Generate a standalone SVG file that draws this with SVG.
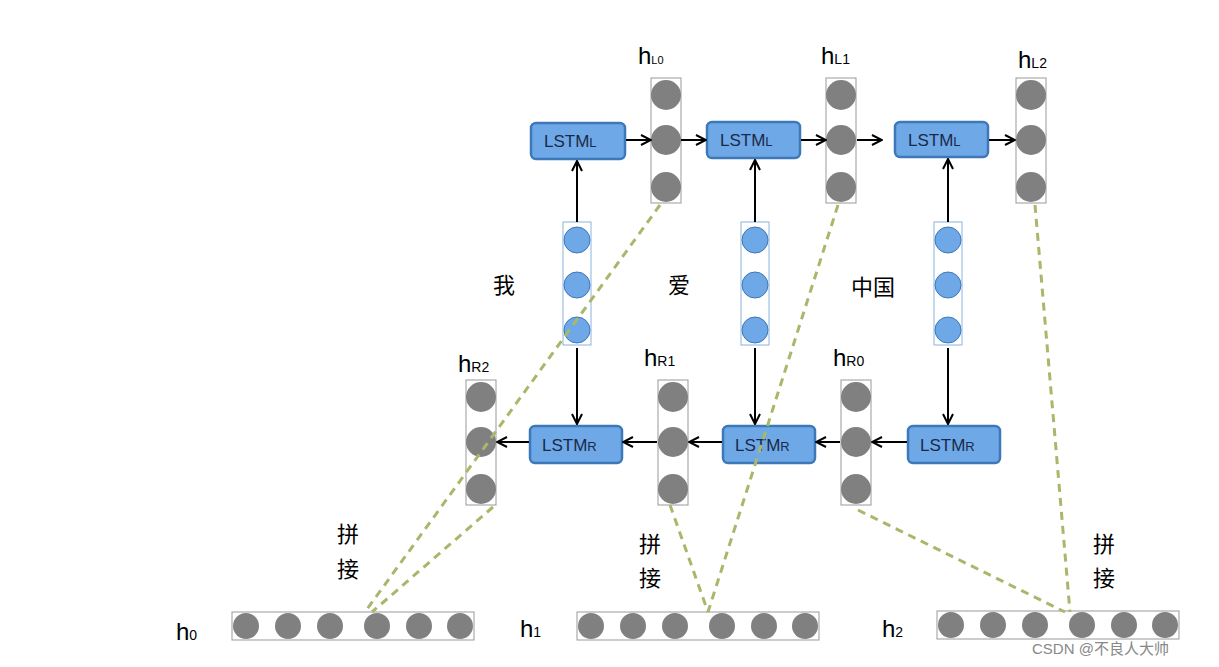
<svg xmlns="http://www.w3.org/2000/svg" width="1219" height="667" viewBox="0 0 1219 667">
<defs>
<marker id="ar" viewBox="0 0 12 12" refX="11" refY="6" markerWidth="12" markerHeight="12" markerUnits="userSpaceOnUse" orient="auto"><path d="M1,1 L11,6 L1,11" fill="none" stroke="#000" stroke-width="2"/></marker>
<g id="col3"><rect x="-15" y="-62" width="30" height="125" fill="#fff" stroke="#999"/><circle cx="0" cy="-45" r="15" fill="#808080"/><circle cx="0" cy="0" r="15" fill="#808080"/><circle cx="0" cy="47" r="15" fill="#808080"/></g>
<g id="emb"><rect x="-14" y="-63" width="28" height="123" fill="#fff" stroke="#8ab4e0"/><circle cx="0" cy="-45" r="13" fill="#6fa8e6" stroke="#3d78b8"/><circle cx="0" cy="0" r="13" fill="#6fa8e6" stroke="#3d78b8"/><circle cx="0" cy="45" r="13" fill="#6fa8e6" stroke="#3d78b8"/></g>
<g id="row"><rect x="0" y="0" width="242" height="28" fill="#fff" stroke="#999"/><circle cx="14" cy="14" r="13" fill="#808080"/><circle cx="56" cy="14" r="13" fill="#808080"/><circle cx="98" cy="14" r="13" fill="#808080"/><circle cx="145" cy="14" r="13" fill="#808080"/><circle cx="187" cy="14" r="13" fill="#808080"/><circle cx="228" cy="14" r="13" fill="#808080"/></g>
</defs>
<style>
.box{fill:#6fa8e6;stroke:#3d78b8;stroke-width:2.5}
.bt{font-family:"Liberation Sans",Arial,sans-serif;font-size:17px;fill:#1a2a4a}
.sub{font-size:11px}
.lb{font-family:"Liberation Sans",Arial,sans-serif;font-size:24px;fill:#000}
.cj{font-family:"Noto Sans CJK SC",sans-serif;font-size:22px;fill:#000}
.ar{stroke:#000;stroke-width:2;fill:none;marker-end:url(#ar)}
.ds{stroke:#a8b86a;stroke-width:3;stroke-dasharray:8,6;fill:none}
</style>
<rect width="1219" height="667" fill="#fff"/>
<g id="rows">
<use href="#row" x="232" y="612"/><use href="#row" x="577" y="612"/><use href="#row" x="937" y="611"/>
</g>
<g id="hL0"><use href="#col3" x="666" y="140"/><text class="lb" x="638" y="64">h<tspan class="sub" font-size="14">L0</tspan></text></g>
<g id="hL1"><use href="#col3" x="841" y="140"/><text class="lb" x="821" y="64">h<tspan font-size="14">L1</tspan></text></g>
<g id="hL2"><use href="#col3" x="1031" y="140"/><text class="lb" x="1018" y="68">h<tspan font-size="14">L2</tspan></text></g>
<g id="hR2"><use href="#col3" x="481" y="442"/><text class="lb" x="458" y="372">h<tspan font-size="14">R2</tspan></text></g>
<g id="hR1"><use href="#col3" x="673" y="442"/><text class="lb" x="644" y="366">h<tspan font-size="14">R1</tspan></text></g>
<g id="hR0"><use href="#col3" x="856" y="442"/><text class="lb" x="833" y="366">h<tspan font-size="14">R0</tspan></text></g>
<g id="e0"><use href="#emb" x="577" y="285"/></g>
<g id="e1"><use href="#emb" x="755" y="285"/></g>
<g id="e2"><use href="#emb" x="948" y="285"/></g>
<g id="L1"><rect class="box" x="531" y="123" width="94" height="36" rx="5"/><text class="bt" x="544" y="147">LSTM<tspan font-size="13">L</tspan></text></g>
<g id="L2"><rect class="box" x="707" y="122" width="93" height="36" rx="5"/><text class="bt" x="720" y="146">LSTM<tspan font-size="13">L</tspan></text></g>
<g id="L3"><rect class="box" x="895" y="122" width="93" height="35" rx="5"/><text class="bt" x="908" y="146">LSTM<tspan font-size="13">L</tspan></text></g>
<g id="R1"><rect class="box" x="530" y="426" width="92" height="37" rx="5"/><text class="bt" x="542" y="451">LSTM<tspan font-size="13">R</tspan></text></g>
<g id="R2"><rect class="box" x="723" y="426" width="92" height="37" rx="5"/><text class="bt" x="735" y="451">LSTM<tspan font-size="13">R</tspan></text></g>
<g id="R3"><rect class="box" x="908" y="426" width="92" height="37" rx="5"/><text class="bt" x="920" y="451">LSTM<tspan font-size="13">R</tspan></text></g>
<g id="texts">
<text class="cj" x="493" y="293">我</text><text class="cj" x="668" y="293">爱</text><text class="cj" x="851" y="295">中国</text>
<text class="cj" x="337" y="542">拼</text><text class="cj" x="337" y="577">接</text>
<text class="cj" x="639" y="552">拼</text><text class="cj" x="639" y="586">接</text>
<text class="cj" x="1093" y="552">拼</text><text class="cj" x="1093" y="586">接</text>
<text class="lb" x="176" y="640">h<tspan font-size="14">0</tspan></text>
<text class="lb" x="520" y="637">h<tspan font-size="14">1</tspan></text>
<text class="lb" x="882" y="637">h<tspan font-size="14">2</tspan></text>
<text x="1032" y="654" font-family="'Liberation Sans','Noto Sans CJK SC',sans-serif" font-size="15" fill="#888">CSDN @不良人大帅</text>
</g>
<g id="connectors">
<path class="ds" d="M660,205 L365,612"/><path class="ds" d="M493,507 L372,612"/>
<path class="ds" d="M838,205 L708,612"/><path class="ds" d="M670,505 L708,612"/>
<path class="ds" d="M1035,205 L1070,612"/><path class="ds" d="M858,510 L1065,612"/>
<path class="ar" d="M577,222 L577,161"/><path class="ar" d="M755,222 L755,160"/><path class="ar" d="M948,222 L948,159"/>
<path class="ar" d="M577,348 L577,424"/><path class="ar" d="M755,348 L755,424"/><path class="ar" d="M948,348 L948,424"/>
<path class="ar" d="M626,140 L651,140"/><path class="ar" d="M681,140 L706,140"/><path class="ar" d="M801,140 L826,140"/><path class="ar" d="M857,140 L882,140"/><path class="ar" d="M989,140 L1015,140"/>
<path class="ar" d="M907,442 L872,442"/><path class="ar" d="M840,442 L816,442"/><path class="ar" d="M722,442 L689,442"/><path class="ar" d="M657,442 L623,442"/><path class="ar" d="M529,442 L497,442"/>
</g>
</svg>
